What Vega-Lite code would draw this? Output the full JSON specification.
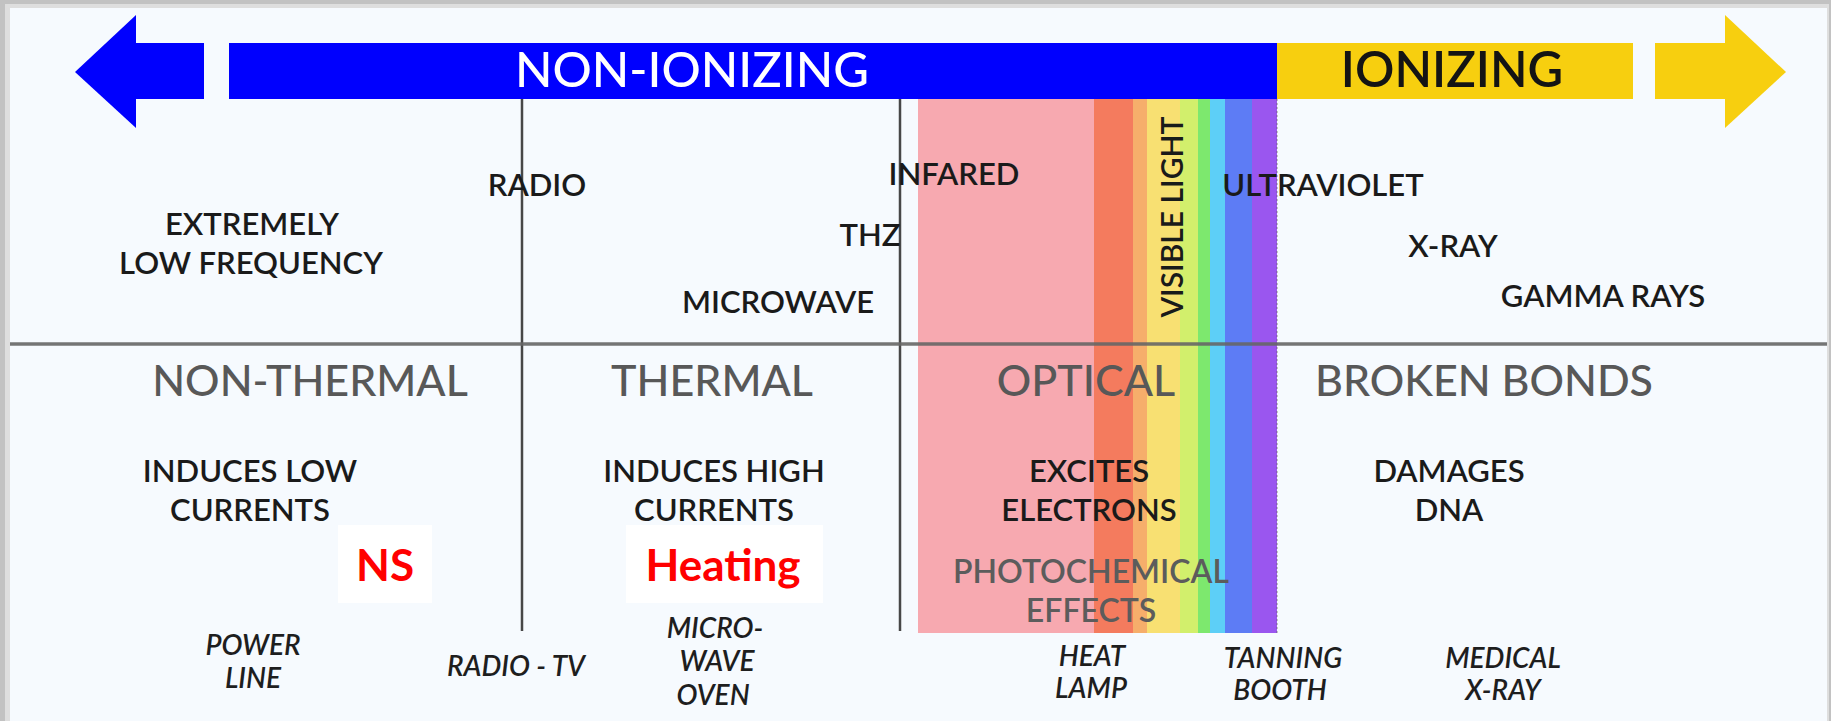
{
  "$schema": "https://vega.github.io/schema/vega-lite/v6.json",
  "width": 1831,
  "height": 721,
  "autosize": {"type": "fit", "contains": "padding"},
  "padding": 0,
  "background": "#ffffff",
  "config": {"view": {"stroke": null}},
  "datasets": {
    "blocks": [
      {"part": "shadow_outer", "x": 0, "x2": 1831, "y": 0, "y2": 721},
      {"part": "shadow_inner", "x": 5, "x2": 1829, "y": 4, "y2": 721},
      {"part": "panel", "x": 10, "x2": 1827, "y": 8, "y2": 721},
      {"part": "infrared", "x": 918, "x2": 1094, "y": 99, "y2": 633},
      {"part": "red", "x": 1094, "x2": 1133, "y": 99, "y2": 633},
      {"part": "orange", "x": 1133, "x2": 1147, "y": 99, "y2": 633},
      {"part": "yellow", "x": 1147, "x2": 1180, "y": 99, "y2": 633},
      {"part": "lime", "x": 1180, "x2": 1198, "y": 99, "y2": 633},
      {"part": "green", "x": 1198, "x2": 1210, "y": 99, "y2": 633},
      {"part": "cyan", "x": 1210, "x2": 1225, "y": 99, "y2": 633},
      {"part": "blue", "x": 1225, "x2": 1252, "y": 99, "y2": 633},
      {"part": "violet", "x": 1252, "x2": 1277, "y": 99, "y2": 633},
      {"part": "nonionizing", "x": 229, "x2": 1277, "y": 43, "y2": 99},
      {"part": "nonionizing", "x": 135, "x2": 204, "y": 43, "y2": 99},
      {"part": "ionizing", "x": 1277, "x2": 1633, "y": 43, "y2": 99},
      {"part": "ionizing", "x": 1655, "x2": 1726, "y": 43, "y2": 99},
      {"part": "notebox", "x": 338, "x2": 432, "y": 525, "y2": 603},
      {"part": "notebox", "x": 626, "x2": 823, "y": 525, "y2": 603}
    ],
    "heads": [
      {"part": "nonionizing", "x": 75, "y": 72, "y2": 72},
      {"part": "nonionizing", "x": 136, "y": 15, "y2": 128},
      {"part": "ionizing", "x": 1725, "y": 15, "y2": 128},
      {"part": "ionizing", "x": 1786, "y": 72, "y2": 72}
    ],
    "dividers": [
      {"kind": "vertical", "x": 522, "x2": 522, "y": 99, "y2": 631},
      {"kind": "vertical", "x": 900, "x2": 900, "y": 99, "y2": 631},
      {"kind": "horizontal", "x": 10, "x2": 1827, "y": 344, "y2": 344},
      {"kind": "edge", "x": 1277, "x2": 1277, "y": 99, "y2": 633}
    ],
    "bands": [
      {"group": "non", "text": "NON-IONIZING", "x": 692, "y": 72},
      {"group": "ion", "text": "IONIZING", "x": 1452, "y": 72}
    ],
    "spectrum": [
      {"text": "RADIO", "x": 537, "y": 187},
      {"text": "INFARED", "x": 954, "y": 176},
      {"text": "THZ", "x": 870, "y": 237},
      {"text": "MICROWAVE", "x": 778, "y": 304},
      {"text": "EXTREMELY", "x": 252, "y": 226},
      {"text": "LOW FREQUENCY", "x": 251, "y": 265},
      {"text": "ULTRAVIOLET", "x": 1323, "y": 187},
      {"text": "X-RAY", "x": 1453, "y": 248},
      {"text": "GAMMA RAYS", "x": 1603, "y": 298}
    ],
    "visible": [
      {"text": "VISIBLE LIGHT", "x": 1174, "y": 217}
    ],
    "effects": [
      {"text": "NON-THERMAL", "x": 310, "y": 383},
      {"text": "THERMAL", "x": 712, "y": 383},
      {"text": "OPTICAL", "x": 1086, "y": 383},
      {"text": "BROKEN BONDS", "x": 1484, "y": 383}
    ],
    "descriptions": [
      {"text": "INDUCES LOW", "x": 250, "y": 473},
      {"text": "CURRENTS", "x": 250, "y": 512},
      {"text": "INDUCES HIGH", "x": 714, "y": 473},
      {"text": "CURRENTS", "x": 714, "y": 512},
      {"text": "EXCITES", "x": 1089, "y": 473},
      {"text": "ELECTRONS", "x": 1089, "y": 512},
      {"text": "DAMAGES", "x": 1449, "y": 473},
      {"text": "DNA", "x": 1449, "y": 512}
    ],
    "photo": [
      {"text": "PHOTOCHEMICAL", "x": 1091, "y": 573},
      {"text": "EFFECTS", "x": 1091, "y": 612}
    ],
    "examples": [
      {"text": "POWER", "x": 253, "y": 647},
      {"text": "LINE", "x": 253, "y": 680},
      {"text": "RADIO - TV", "x": 516, "y": 668},
      {"text": "MICRO-", "x": 715, "y": 630},
      {"text": "WAVE", "x": 717, "y": 663},
      {"text": "OVEN", "x": 713, "y": 697},
      {"text": "HEAT", "x": 1092, "y": 658},
      {"text": "LAMP", "x": 1091, "y": 690},
      {"text": "TANNING", "x": 1283, "y": 660},
      {"text": "BOOTH", "x": 1280, "y": 692},
      {"text": "MEDICAL", "x": 1503, "y": 660},
      {"text": "X-RAY", "x": 1503, "y": 692}
    ],
    "notes": [
      {"text": "NS", "x": 385, "y": 568},
      {"text": "Heating", "x": 723, "y": 568}
    ]
  },
  "layer": [
    {
      "data": {"name": "blocks"},
      "mark": {"type": "rect"},
      "encoding": {
        "x": {"field": "x", "type": "quantitative", "scale": {"domain": [0, 1831], "nice": false, "zero": false}, "axis": null},
        "x2": {"field": "x2"},
        "y": {"field": "y", "type": "quantitative", "scale": {"domain": [0, 721], "nice": false, "zero": false, "reverse": true}, "axis": null},
        "y2": {"field": "y2"},
        "color": {
          "field": "part", "type": "nominal", "legend": null,
          "scale": {
            "domain": ["shadow_outer", "shadow_inner", "panel", "infrared", "red", "orange", "yellow", "lime", "green", "cyan", "blue", "violet", "nonionizing", "ionizing", "notebox"],
            "range": ["#c2c2c2", "#dedede", "#f6fafe", "#f7a9b0", "#f47b5e", "#f6ae6b", "#f8e072", "#d2ef6c", "#7de86e", "#5dcff7", "#5d7cf5", "#9a56ef", "#0000fe", "#f7cf0f", "#ffffff"]
          }
        }
      }
    },
    {
      "data": {"name": "heads"},
      "mark": {"type": "area", "interpolate": "linear"},
      "encoding": {
        "x": {"field": "x", "type": "quantitative", "axis": null},
        "y": {"field": "y", "type": "quantitative", "axis": null},
        "y2": {"field": "y2"},
        "color": {"field": "part", "type": "nominal", "legend": null}
      }
    },
    {
      "data": {"name": "dividers"},
      "transform": [{"filter": "datum.kind === 'vertical'"}],
      "mark": {"type": "rule", "color": "#474747", "strokeWidth": 2.5},
      "encoding": {
        "x": {"field": "x", "type": "quantitative", "axis": null},
        "x2": {"field": "x2"},
        "y": {"field": "y", "type": "quantitative", "axis": null},
        "y2": {"field": "y2"}
      }
    },
    {
      "data": {"name": "dividers"},
      "transform": [{"filter": "datum.kind === 'horizontal'"}],
      "mark": {"type": "rule", "color": "#666666", "strokeWidth": 3.5, "opacity": 0.9},
      "encoding": {
        "x": {"field": "x", "type": "quantitative", "axis": null},
        "x2": {"field": "x2"},
        "y": {"field": "y", "type": "quantitative", "axis": null},
        "y2": {"field": "y2"}
      }
    },
    {
      "data": {"name": "dividers"},
      "transform": [{"filter": "datum.kind === 'edge'"}],
      "mark": {"type": "rule", "color": "#6a5a6a", "strokeWidth": 1.2, "strokeDash": [2, 2], "opacity": 0.6},
      "encoding": {
        "x": {"field": "x", "type": "quantitative", "axis": null},
        "x2": {"field": "x2"},
        "y": {"field": "y", "type": "quantitative", "axis": null},
        "y2": {"field": "y2"}
      }
    },
    {
      "data": {"name": "bands"},
      "transform": [{"filter": "datum.group === 'non'"}],
      "mark": {"type": "text", "font": "Lato", "fontSize": 49, "fontWeight": 500, "color": "#ffffff", "align": "center", "baseline": "middle"},
      "encoding": {
        "x": {"field": "x", "type": "quantitative", "axis": null},
        "y": {"field": "y", "type": "quantitative", "axis": null},
        "text": {"field": "text"}
      }
    },
    {
      "data": {"name": "bands"},
      "transform": [{"filter": "datum.group === 'ion'"}],
      "mark": {"type": "text", "font": "Lato", "fontSize": 49, "fontWeight": 600, "color": "#141414", "align": "center", "baseline": "middle"},
      "encoding": {
        "x": {"field": "x", "type": "quantitative", "axis": null},
        "y": {"field": "y", "type": "quantitative", "axis": null},
        "text": {"field": "text"}
      }
    },
    {
      "data": {"name": "spectrum"},
      "mark": {"type": "text", "font": "Lato", "fontSize": 31, "fontWeight": 600, "color": "#1a1a1a", "align": "center", "baseline": "middle"},
      "encoding": {
        "x": {"field": "x", "type": "quantitative", "axis": null},
        "y": {"field": "y", "type": "quantitative", "axis": null},
        "text": {"field": "text"}
      }
    },
    {
      "data": {"name": "visible"},
      "mark": {"type": "text", "font": "Lato", "fontSize": 30, "fontWeight": 600, "color": "#1a1a1a", "align": "center", "baseline": "middle", "angle": 270},
      "encoding": {
        "x": {"field": "x", "type": "quantitative", "axis": null},
        "y": {"field": "y", "type": "quantitative", "axis": null},
        "text": {"field": "text"}
      }
    },
    {
      "data": {"name": "effects"},
      "mark": {"type": "text", "font": "Lato", "fontSize": 43, "fontWeight": 500, "color": "#585858", "align": "center", "baseline": "middle"},
      "encoding": {
        "x": {"field": "x", "type": "quantitative", "axis": null},
        "y": {"field": "y", "type": "quantitative", "axis": null},
        "text": {"field": "text"}
      }
    },
    {
      "data": {"name": "descriptions"},
      "mark": {"type": "text", "font": "Lato", "fontSize": 31, "fontWeight": 600, "color": "#1a1a1a", "align": "center", "baseline": "middle"},
      "encoding": {
        "x": {"field": "x", "type": "quantitative", "axis": null},
        "y": {"field": "y", "type": "quantitative", "axis": null},
        "text": {"field": "text"}
      }
    },
    {
      "data": {"name": "photo"},
      "mark": {"type": "text", "font": "Lato", "fontSize": 32, "fontWeight": 600, "color": "#5c5c5c", "align": "center", "baseline": "middle"},
      "encoding": {
        "x": {"field": "x", "type": "quantitative", "axis": null},
        "y": {"field": "y", "type": "quantitative", "axis": null},
        "text": {"field": "text"}
      }
    },
    {
      "data": {"name": "examples"},
      "mark": {"type": "text", "font": "Lato", "fontSize": 28, "fontStyle": "italic", "fontWeight": 600, "color": "#1e1e1e", "align": "center", "baseline": "middle"},
      "encoding": {
        "x": {"field": "x", "type": "quantitative", "axis": null},
        "y": {"field": "y", "type": "quantitative", "axis": null},
        "text": {"field": "text"}
      }
    },
    {
      "data": {"name": "notes"},
      "mark": {"type": "text", "font": "Lato", "fontSize": 44, "fontWeight": "bold", "color": "#ff0000", "align": "center", "baseline": "middle"},
      "encoding": {
        "x": {"field": "x", "type": "quantitative", "axis": null},
        "y": {"field": "y", "type": "quantitative", "axis": null},
        "text": {"field": "text"}
      }
    }
  ]
}
